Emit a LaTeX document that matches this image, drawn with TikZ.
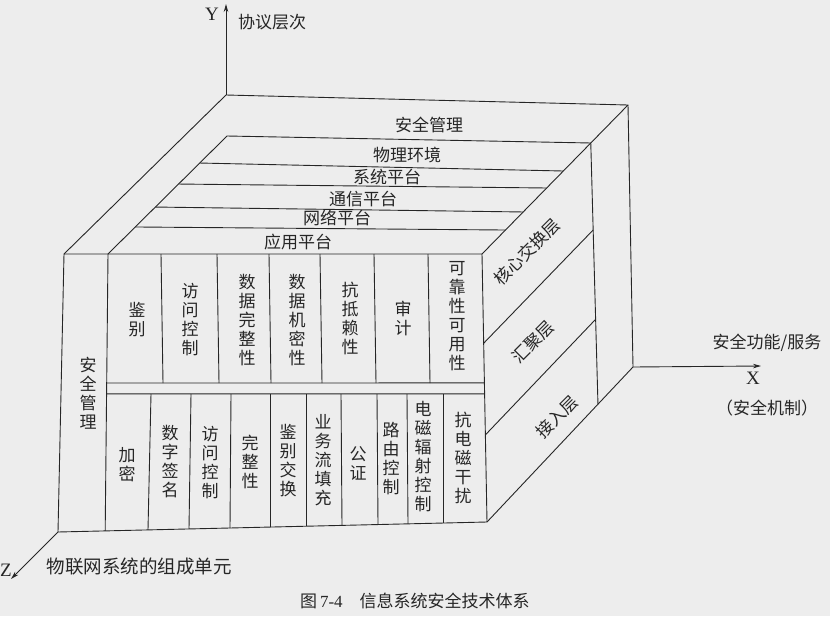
\documentclass[tikz,border=0pt]{standalone}
\usepackage{fontspec}
\setmainfont{Liberation Serif}
\newfontfamily\cjk{Noto Sans CJK SC}
\usetikzlibrary{calc,arrows.meta}
\begin{document}
\begin{tikzpicture}[x=1pt,y=-1pt,line join=round,
  edge/.style={draw=black!85,line width=0.9pt},
  axisline/.style={edge,-{Stealth[length=8pt,width=4.5pt]}},
  lbl/.style={font=\cjk\fontsize{17}{19}\selectfont,inner sep=0pt,text=black!85},
  vlbl/.style={lbl,align=center},
  latin/.style={font=\fontsize{19}{20}\selectfont,inner sep=0pt,text=black!85},
]
\fill[black!7] (0,0) rectangle (830,616);
\useasboundingbox (0,0) rectangle (830,616);

% corners
\coordinate (BTL) at (226,95);
\coordinate (BTR) at (628,105);
\coordinate (BBR) at (633,367);
\coordinate (FTL) at (64,254);
\coordinate (FTR) at (482,254);
\coordinate (FBR) at (487,522);
\coordinate (FBL) at (58,532);
\coordinate (ITL) at (227,136);
\coordinate (IFL) at (108,254);
\coordinate (ITR) at ($(BTR)!0.255!(FTR)$);
\coordinate (RVB) at ($(BBR)!0.24!(FBR)$);
\coordinate (IFLB) at ($(FBL)!0.11!(FBR)$);
\coordinate (Ytip) at (226,4);
\coordinate (Xtip) at (761,366);
\coordinate (Ztip) at (11,579);

% axes
\draw[axisline] (BTL) -- (Ytip);
\draw[axisline] (BBR) -- (Xtip);
\draw[axisline] (FBL) -- (Ztip);

% outline
\draw[edge] (FTL) -- (FTR) -- (FBR) -- (FBL) -- cycle;
\draw[edge] (FTL) -- (BTL) -- (BTR) -- (FTR);
\draw[edge] (BTR) -- (BBR) -- (FBR);

% inner top face
\draw[edge] (IFL) -- (ITL) -- (ITR) -- (RVB);
\draw[edge] (IFL) -- (IFLB);
\foreach \f/\g in {0.229/0.443,0.407/0.557,0.602/0.718,0.771/0.839}
  \draw[edge] ($(ITL)!\f!(IFL)$) -- ($(BTR)!\g!(FTR)$);

% right face diagonals
\foreach \f in {0.333,0.675}
  \draw[edge] ($(FTR)!\f!(FBR)$) -- ($(ITR)!\f!(RVB)$);

% front face horizontal bands
\draw[edge] ($(IFL)!0.466!(IFLB)$) -- ($(FTR)!0.481!(FBR)$);
\draw[edge] ($(IFL)!0.505!(IFLB)$) -- ($(FTR)!0.522!(FBR)$);

% upper dividers
\foreach \a/\b in {161/163,217/219,269/271,320/322,374/376,428/430}
  \draw[edge] (\a,254) -- (\b,383);
% lower dividers
\foreach \a/\b/\c in {151/148/529.9,191/189/528.9,231/230/528,270/270/527,306/306/526.2,341/342/525.4,377/378/524.5,407/408/523.8,443/443/523}
  \draw[edge] (\a,394) -- (\b,\c);

% top face labels
\node[lbl] (tAQ) at (429,125) {安全管理};
\node[lbl] (tWL) at (407,155) {物理环境};
\node[lbl] (tXT) at (387,177) {系统平台};
\node[lbl] (tTX) at (363,199) {通信平台};
\node[lbl] (tWN) at (337,218) {网络平台};
\node[lbl] (tYY) at (298,242) {应用平台};

% right face labels
\node[lbl,rotate=45] (rHX) at (527,252) {核心交换层};
\node[lbl,rotate=45] (rHJ) at (533,342) {汇聚层};
\node[lbl,rotate=45] (rJR) at (557,417) {接入层};

% front left
\node[vlbl] (fAQ) at (88,393) {安\\全\\管\\理};

% front upper
\node[vlbl] (u1) at (137,320) {鉴\\别};
\node[vlbl] (u2) at (190,320) {访\\问\\控\\制};
\node[vlbl] (u3) at (247,320) {数\\据\\完\\整\\性};
\node[vlbl] (u4) at (297,320) {数\\据\\机\\密\\性};
\node[vlbl] (u5) at (350,318) {抗\\抵\\赖\\性};
\node[vlbl] (u6) at (403,318) {审\\计};
\node[vlbl] (u7) at (457,316) {可\\靠\\性\\可\\用\\性};

% front lower
\node[vlbl] (l1) at (127,465) {加\\密};
\node[vlbl] (l2) at (170,462) {数\\字\\签\\名};
\node[vlbl] (l3) at (210,463) {访\\问\\控\\制};
\node[vlbl] (l4) at (250,462) {完\\整\\性};
\node[vlbl] (l5) at (288,461) {鉴\\别\\交\\换};
\node[vlbl] (l6) at (323,460) {业\\务\\流\\填\\充};
\node[vlbl] (l7) at (358,463) {公\\证};
\node[vlbl] (l8) at (391,459) {路\\由\\控\\制};
\node[vlbl] (l9) at (423,457) {电\\磁\\辐\\射\\控\\制};
\node[vlbl] (l10) at (463,458) {抗\\电\\磁\\干\\扰};

% axis labels
\node[latin] (Yl) at (212,14) {Y};
\node[lbl] (Yt) at (272,22) {协议层次};
\node[latin] (Xl) at (753,378) {X};
\node[lbl] (Xt) at (767,343) {安全功能/服务};
\node[lbl] (Xt2) at (767,408) {（安全机制）};
\node[latin] (Zl) at (6,570) {Z};
\node[lbl,font=\cjk\fontsize{18.5}{20}\selectfont] (Zt) at (139,566) {物联网系统的组成单元};

% caption
\node[lbl,anchor=west] (cap) at (300,601) {图\,{\fontspec{Liberation Serif}7-4}\quad 信息系统安全技术体系};
\end{tikzpicture}
\end{document}
